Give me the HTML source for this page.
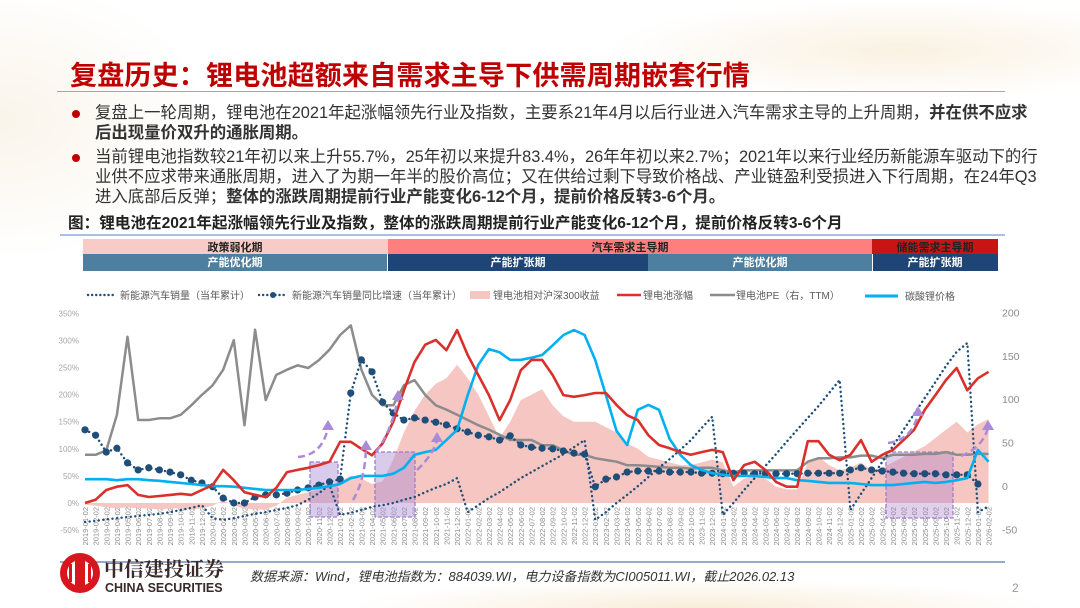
<!DOCTYPE html>
<html><head><meta charset="utf-8">
<style>
html,body{margin:0;padding:0}
body{width:1080px;height:608px;position:relative;overflow:hidden;background:#fff;font-family:"Liberation Sans","Noto Sans CJK SC",sans-serif;}
.bg{position:absolute;inset:0;background:
 radial-gradient(ellipse 420px 70px at 900px 50px, rgba(240,215,170,0.35), rgba(255,255,255,0) 70%),
 radial-gradient(ellipse 300px 200px at 0px 120px, rgba(240,225,195,0.35), rgba(255,255,255,0) 70%),
 radial-gradient(ellipse 500px 40px at 700px 608px, rgba(240,215,170,0.45), rgba(255,255,255,0) 70%);}
.title{position:absolute;left:70px;top:54px;font-size:27px;font-weight:bold;color:#c00000;white-space:nowrap;letter-spacing:0.2px}
.hr{position:absolute;left:57px;top:91px;width:948px;height:1px;background:#a6a6a6}
.p{position:absolute;left:95px;font-size:16.4px;color:#333;white-space:nowrap;line-height:20px}
.dot{position:absolute;left:72px;width:8px;height:8px;border-radius:50%;background:#c00000}
.cap{position:absolute;left:68px;top:211px;font-size:15.6px;font-weight:bold;color:#222;white-space:nowrap}
svg{position:absolute;left:0;top:0}
</style></head>
<body>
<div class="bg"></div>
<div class="title">复盘历史：锂电池超额来自需求主导下供需周期嵌套行情</div>
<div class="hr"></div>
<div class="dot" style="top:110px"></div>
<div class="p" style="top:103px">复盘上一轮周期，锂电池在2021年起涨幅领先行业及指数，主要系21年4月以后行业进入汽车需求主导的上升周期，<b>并在供不应求</b><br><b>后出现量价双升的通胀周期。</b></div>
<div class="dot" style="top:154px"></div>
<div class="p" style="top:147px">当前锂电池指数较21年初以来上升55.7%，25年初以来提升83.4%，26年年初以来2.7%；2021年以来行业经历新能源车驱动下的行<br>业供不应求带来通胀周期，进入了为期一年半的股价高位；又在供给过剩下导致价格战、产业链盈利受损进入下行周期，在24年Q3<br>进入底部后反弹；<b>整体的涨跌周期提前行业产能变化6-12个月，提前价格反转3-6个月。</b></div>
<div class="cap">图：锂电池在2021年起涨幅领先行业及指数，整体的涨跌周期提前行业产能变化6-12个月，提前价格反转3-6个月</div>

<svg id="chart" width="1080" height="608">
 <line x1="60" y1="235" x2="1005" y2="235" stroke="#8faadc" stroke-width="1.5"/>
 <g font-size="11" font-weight="bold" text-anchor="middle">
  <rect x="83" y="239" width="305" height="15" fill="#f8cbc7"/>
  <text x="235" y="251" fill="#222">政策弱化期</text>
  <rect x="388" y="239" width="484" height="15" fill="#ff7f7f"/>
  <text x="630" y="251" fill="#222">汽车需求主导期</text>
  <rect x="872" y="239" width="126" height="15" fill="#c91414"/>
  <text x="935" y="251" fill="#222">储能需求主导期</text>
  <rect x="83" y="254" width="304" height="17" fill="#4f7f9e"/>
  <text x="235" y="266" fill="#fff">产能优化期</text>
  <rect x="388" y="254" width="260" height="17" fill="#1f4577"/>
  <text x="518" y="266" fill="#fff">产能扩张期</text>
  <rect x="648" y="254" width="224" height="17" fill="#4f7f9e"/>
  <text x="760" y="266" fill="#fff">产能优化期</text>
  <rect x="873" y="254" width="125" height="17" fill="#1f4577"/>
  <text x="935" y="266" fill="#fff">产能扩张期</text>
 </g>
 <g font-size="10" fill="#595959">
  <g>
   <line x1="88" y1="295" x2="113" y2="295" stroke="#1f4e79" stroke-width="2.4" stroke-dasharray="0.1 4" stroke-linecap="round"/>
   <text x="120" y="299">新能源汽车销量（当年累计）</text></g>
  <g>
   <line x1="259" y1="295" x2="287" y2="295" stroke="#1f4e79" stroke-width="2.4" stroke-dasharray="0.1 4" stroke-linecap="round"/>
   <circle cx="273" cy="295" r="3" fill="#1f4e79"/>
   <text x="292" y="299">新能源汽车销量同比增速（当年累计）</text></g>
  <g>
   <rect x="470" y="291" width="20" height="8" fill="#f5c6c2"/>
   <text x="493" y="299">锂电池相对沪深300收益</text></g>
  <g>
   <line x1="617" y1="295" x2="641" y2="295" stroke="#d9302b" stroke-width="2.5"/>
   <text x="643" y="299">锂电池涨幅</text></g>
  <g>
   <line x1="710" y1="295" x2="735" y2="295" stroke="#8c8c8c" stroke-width="2.5"/>
   <text x="736" y="299">锂电池PE（右，TTM）</text></g>
  <g>
   <line x1="865" y1="296" x2="898" y2="296" stroke="#00b0f0" stroke-width="3"/>
   <text x="905" y="300">碳酸锂价格</text></g>
 </g>
 <g id="plot"></g>
 <line x1="60" y1="562" x2="1005" y2="562" stroke="#2f5597" stroke-width="1"/>
 <g>
  <circle cx="80" cy="573" r="20" fill="#d7161e"/>
  <circle cx="80" cy="573" r="13" fill="#fff"/>
  <rect x="75" y="560" width="10" height="26" fill="#d7161e"/>
  <rect x="69" y="564" width="3" height="18" fill="#d7161e"/>
  <rect x="88" y="564" width="3" height="18" fill="#d7161e"/>
  <text x="104" y="576" font-size="20" font-weight="bold" fill="#3a2a2a" font-family="'Noto Serif CJK SC',serif">中信建投证券</text>
  <text x="105" y="592" font-size="12.5" font-weight="bold" fill="#3a2a2a">CHINA SECURITIES</text>
 </g>
 <text x="250" y="581" font-size="13" font-style="italic" fill="#333">数据来源：Wind，锂电池指数为：884039.WI，电力设备指数为CI005011.WI，截止2026.02.13</text>
 <text x="1012" y="592" font-size="12" fill="#999">2</text>
</svg>

<script>
// ---- chart data (monthly, 2019-01 .. 2026-02) ----
const batteryGain = [0,6,24,30,33,15,11,13,15,17,15,24,33,61,42,20,15,11,28,57,61,65,70,76,113,113,100,88,110,150,208,260,292,301,282,319,273,236,199,153,190,245,264,264,236,199,196,199,203,203,181,162,153,125,107,101,94,89,94,98,94,42,70,76,61,39,30,30,114,114,89,79,89,116,76,89,98,116,135,172,199,227,249,208,230,242];
const relativeReturn = [-3,-5,-8,-10,-8,-10,-10,-12,-10,-10,-12,-10,-5,5,-5,-10,-12,-12,-5,10,15,20,25,30,40,50,45,35,40,80,130,170,200,220,230,255,230,200,160,120,150,190,200,210,180,160,150,150,150,140,130,110,100,85,80,75,70,70,75,80,75,30,45,50,45,30,25,25,75,85,70,60,65,75,60,65,75,85,95,105,120,135,150,130,145,155];
const batteryPE = [36,36,41,82,172,76,76,78,78,82,93,105,116,134,168,70,180,99,128,134,139,136,145,157,174,185,134,105,93,93,116,122,105,93,88,82,76,70,65,59,53,53,53,47,47,41,36,36,32,30,28,24,24,23,22,21,21,20,21,21,18,16,18,18,18,18,18,18,28,32,32,33,33,35,35,32,36,36,36,37,37,39,36,36,37,37];
const lithiumPrice = [44,44,44,42,44,44,42,41,39,37,35,33,31,31,30,28,26,24,24,24,24,26,28,31,35,46,50,50,50,54,65,89,94,98,116,135,199,255,284,278,264,264,268,273,291,310,319,310,264,199,133,107,172,181,172,118,89,70,61,55,52,50,50,50,48,46,46,42,41,39,37,37,37,35,33,33,33,35,37,39,37,39,42,46,98,76];
const nevSales = [-35,-33,-30,-28,-26,-24,-22,-20,-17,-13,-9,-4,-28,-31,-28,-24,-20,-17,-13,-9,-4,6,18,33,-22,-18,-13,-7,-4,0,6,11,20,28,35,46,-17,-4,9,20,33,46,57,68,79,90,103,116,-31,-17,0,15,31,48,65,81,98,116,138,159,-22,0,24,46,68,90,113,135,157,179,203,227,-13,17,46,76,105,135,164,194,223,253,279,295,-17,-6];
const nevYoY = [135,125,94,101,74,61,65,61,57,52,42,37,30,9,0,0,11,15,15,18,24,28,33,39,44,203,264,242,186,166,153,157,153,149,144,137,131,125,122,116,124,107,103,101,100,96,92,90,30,44,48,57,59,59,59,57,57,57,55,55,54,55,55,54,54,54,54,54,55,55,55,55,61,65,61,59,57,55,54,54,54,52,52,52,35];
const leftTicks = [350,300,250,200,150,100,50,0,-50];
const rightTicks = [200,150,100,50,0,-50];
const startYear = 2019, startMonth = 1, monthCount = 86;
const dateLabels = [];
for (let i = 0; i < monthCount; i++) {
  const m = (startMonth - 1 + i) % 12 + 1, y = startYear + Math.floor((startMonth - 1 + i) / 12);
  dateLabels.push(y + '-' + String(m).padStart(2, '0') + '-02');
}

// ---- axes ----
const X0 = 85, DX = 10.63;
const xAt = i => X0 + i * DX;
const yL = v => 503 - v * 0.542;
const yR = v => 486 - v * 0.868;
const NS = 'http://www.w3.org/2000/svg';
const plot = document.getElementById('plot');
function mk(tag, attrs, parent) {
  const e = document.createElementNS(NS, tag);
  for (const k in attrs) e.setAttribute(k, attrs[k]);
  (parent || plot).appendChild(e);
  return e;
}
function pts(arr, yf) { return arr.map((v, i) => xAt(i).toFixed(1) + ',' + yf(v).toFixed(1)).join(' '); }

const gL = mk('g', {});


leftTicks.forEach(t => {
  const tx = mk('text', {x: 79, y: yL(t) + 3, 'font-size': 8, fill: '#a6a6a6', 'text-anchor': 'end'}, gL);
  tx.textContent = t + '%';
  
  
});
const gR = mk('g', {});


rightTicks.forEach(t => {
  const tx = mk('text', {x: 1002, y: yR(t) + 4, 'font-size': 10.5, fill: '#8c8c8c'}, gR);
  tx.textContent = t;
  
  
});
const gX = mk('g', {});


dateLabels.forEach((d, i) => {
  const x = xAt(i) + 3;
  const tx = mk('text', {x: x, y: 507, 'font-size': 7.5, fill: '#8c8c8c', 'text-anchor': 'end', transform: 'rotate(-90 ' + x + ' 507)'}, gX);
  tx.textContent = d;
  
  
});

const area = mk('polygon', {points: xAt(0) + ',' + yL(0) + ' ' + pts(relativeReturn, yL) + ' ' + xAt(relativeReturn.length - 1) + ',' + yL(0), fill: '#f5c6c2'});



[[310, 462, 28, 55, 'rgba(170,140,210,0.45)'], [375, 452, 40, 65, 'rgba(170,140,210,0.45)'], [886, 452, 67, 66, 'rgba(170,120,200,0.35)']].forEach(r => {
  const e = mk('rect', {x: r[0], y: r[1], width: r[2], height: r[3], fill: r[4], stroke: '#a07cc8', 'stroke-width': 1.3, 'stroke-dasharray': '4 2'});
  
  
});

const pe = mk('polyline', {points: pts(batteryPE, yR), fill: 'none', stroke: '#8c8c8c', 'stroke-width': 2.5, 'stroke-linejoin': 'round'});



const sales = mk('polyline', {points: pts(nevSales, yL), fill: 'none', stroke: '#1f4e79', 'stroke-width': 2.4, 'stroke-dasharray': '0.1 4.5', 'stroke-linecap': 'round'});



const yoy = mk('polyline', {points: pts(nevYoY, yL), fill: 'none', stroke: '#1f4e79', 'stroke-width': 2.4, 'stroke-dasharray': '0.1 4.5', 'stroke-linecap': 'round'});


nevYoY.forEach((v, i) => {
  const c = mk('circle', {cx: xAt(i), cy: yL(v), r: 3.6, fill: '#1f4e79'});
  
  
});

const li = mk('polyline', {points: pts(lithiumPrice, yL), fill: 'none', stroke: '#00b0f0', 'stroke-width': 2.6, 'stroke-linejoin': 'round'});



const red = mk('polyline', {points: pts(batteryGain, yL), fill: 'none', stroke: '#d9302b', 'stroke-width': 2.6, 'stroke-linejoin': 'round'});



[['M298 457 Q322 455 328 428', 328, 420], ['M353 500 Q365 480 366 448', 366, 440], ['M376 452 Q392 430 398 398', 398, 390], ['M417 470 Q433 455 437 440', 437, 432], ['M888 443 Q912 440 918 414', 918, 406], ['M961 456 Q982 448 988 428', 988, 420]].forEach(a => {
  const p = mk('path', {d: a[0], fill: 'none', stroke: '#a98bd6', 'stroke-width': 2.5, 'stroke-dasharray': '7 4'});
  
  
  const h = mk('polygon', {points: (a[1] - 6) + ',' + (a[2] + 10) + ' ' + (a[1] + 6) + ',' + (a[2] + 10) + ' ' + a[1] + ',' + a[2], fill: '#a98bd6'});
  
  
});
</script>
</body></html>
